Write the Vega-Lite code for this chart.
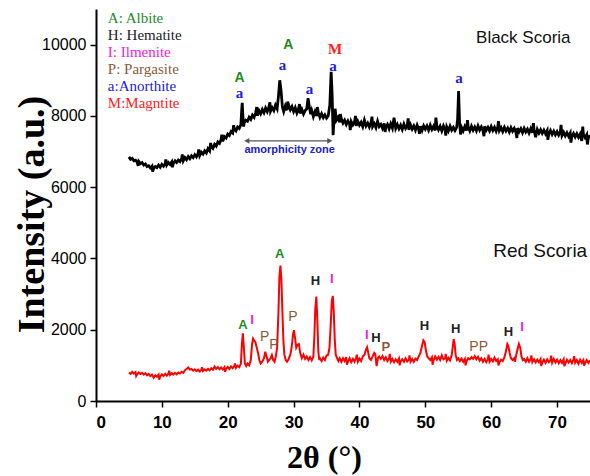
{
  "$schema": "https://vega.github.io/schema/vega-lite/v6.json",
  "width": 494,
  "height": 392,
  "autosize": "none",
  "padding": {"left": 96, "top": 9, "right": 0, "bottom": 75},
  "background": "white",
  "config": {"view": {"stroke": null}},
  "datasets": {
    "black": [
      {"t":5.0,"i":6850},{"t":5.25,"i":6780},{"t":5.5,"i":6810},{"t":5.75,"i":6740},{"t":6.0,"i":6760},{"t":6.25,"i":6700},{"t":6.5,"i":6720},{"t":6.75,"i":6660},{"t":7.0,"i":6690},{"t":7.25,"i":6620},{"t":7.5,"i":6650},{"t":7.75,"i":6580},{"t":8.0,"i":6600},{"t":8.25,"i":6540},{"t":8.5,"i":6590},{"t":8.75,"i":6530},{"t":9.0,"i":6580},{"t":9.25,"i":6550},{"t":9.5,"i":6620},{"t":9.75,"i":6560},
      {"t":10.0,"i":6640},{"t":10.25,"i":6590},{"t":10.5,"i":6660},{"t":10.75,"i":6620},{"t":11.0,"i":6690},{"t":11.25,"i":6640},{"t":11.5,"i":6710},{"t":11.75,"i":6670},{"t":12.0,"i":6740},{"t":12.25,"i":6690},{"t":12.5,"i":6760},{"t":12.75,"i":6720},{"t":13.0,"i":6800},{"t":13.25,"i":6740},{"t":13.5,"i":6830},{"t":13.75,"i":6770},{"t":14.0,"i":6860},{"t":14.25,"i":6800},{"t":14.5,"i":6880},{"t":14.75,"i":6830},
      {"t":15.0,"i":6910},{"t":15.25,"i":6850},{"t":15.5,"i":6950},{"t":15.75,"i":6890},{"t":16.0,"i":6980},{"t":16.25,"i":6930},{"t":16.5,"i":7020},{"t":16.75,"i":6960},{"t":17.0,"i":7080},{"t":17.25,"i":7020},{"t":17.5,"i":7150},{"t":17.75,"i":7090},{"t":18.0,"i":7200},{"t":18.25,"i":7150},{"t":18.5,"i":7270},{"t":18.75,"i":7230},{"t":19.0,"i":7340},{"t":19.25,"i":7290},{"t":19.5,"i":7420},{"t":19.75,"i":7380},
      {"t":20.0,"i":7490},{"t":20.25,"i":7450},{"t":20.5,"i":7560},{"t":20.75,"i":7520},{"t":21.0,"i":7630},{"t":21.25,"i":7580},{"t":21.5,"i":7690},{"t":21.75,"i":7650},{"t":22.0,"i":7760},{"t":22.1,"i":8100},{"t":22.2,"i":8370},{"t":22.3,"i":8000},{"t":22.4,"i":7700},{"t":22.5,"i":7800},{"t":22.75,"i":7880},{"t":23.0,"i":7850},{"t":23.25,"i":7960},{"t":23.5,"i":7900},{"t":23.75,"i":8020},{"t":24.0,"i":7960},{"t":24.25,"i":8100},{"t":24.5,"i":8010},{"t":24.75,"i":8150},
      {"t":25.0,"i":8060},{"t":25.25,"i":8180},{"t":25.5,"i":8090},{"t":25.75,"i":8220},{"t":26.0,"i":8120},{"t":26.25,"i":8250},{"t":26.5,"i":8130},{"t":26.75,"i":8230},{"t":27.0,"i":8150},{"t":27.25,"i":8300},{"t":27.5,"i":8200},{"t":27.7,"i":8550},{"t":27.9,"i":9000},{"t":28.1,"i":8700},{"t":28.3,"i":8250},{"t":28.5,"i":8120},{"t":28.75,"i":8280},{"t":29.0,"i":8160},{"t":29.25,"i":8300},{"t":29.5,"i":8170},{"t":29.75,"i":8260},
      {"t":30.0,"i":8120},{"t":30.25,"i":8230},{"t":30.5,"i":8080},{"t":30.75,"i":8200},{"t":31.0,"i":8070},{"t":31.25,"i":8180},{"t":31.5,"i":8050},{"t":31.75,"i":8150},{"t":32.0,"i":8200},{"t":32.2,"i":8500},{"t":32.4,"i":8250},{"t":32.6,"i":8050},{"t":32.75,"i":8150},{"t":33.0,"i":7980},{"t":33.25,"i":8120},{"t":33.5,"i":8000},{"t":33.75,"i":8100},{"t":34.0,"i":7960},{"t":34.25,"i":8060},{"t":34.5,"i":7950},{"t":34.75,"i":8030},
      {"t":35.0,"i":7940},{"t":35.25,"i":8000},{"t":35.5,"i":8300},{"t":35.7,"i":9240},{"t":35.85,"i":8600},{"t":36.0,"i":7460},{"t":36.15,"i":7950},{"t":36.3,"i":8200},{"t":36.5,"i":7880},{"t":36.75,"i":7960},{"t":37.0,"i":7820},{"t":37.25,"i":7920},{"t":37.5,"i":7800},{"t":37.75,"i":7880},{"t":38.0,"i":7760},{"t":38.25,"i":7860},{"t":38.5,"i":7770},{"t":38.75,"i":7840},{"t":39.0,"i":7750},{"t":39.25,"i":7830},{"t":39.5,"i":7720},{"t":39.75,"i":7850},
      {"t":40.0,"i":7740},{"t":40.25,"i":7820},{"t":40.5,"i":7700},{"t":40.75,"i":7880},{"t":41.0,"i":7720},{"t":41.25,"i":7800},{"t":41.5,"i":7690},{"t":41.75,"i":7810},{"t":42.0,"i":7700},{"t":42.25,"i":7780},{"t":42.5,"i":7670},{"t":42.75,"i":7850},{"t":43.0,"i":7700},{"t":43.25,"i":7760},{"t":43.5,"i":7650},{"t":43.75,"i":7790},{"t":44.0,"i":7680},{"t":44.25,"i":7760},{"t":44.5,"i":7640},{"t":44.75,"i":7780},
      {"t":45.0,"i":7660},{"t":45.25,"i":7950},{"t":45.5,"i":7650},{"t":45.75,"i":7760},{"t":46.0,"i":7640},{"t":46.25,"i":7740},{"t":46.5,"i":7620},{"t":46.75,"i":7770},{"t":47.0,"i":7650},{"t":47.25,"i":7730},{"t":47.5,"i":7610},{"t":47.75,"i":7750},{"t":48.0,"i":7630},{"t":48.25,"i":7720},{"t":48.5,"i":7600},{"t":48.75,"i":7740},{"t":49.0,"i":7620},{"t":49.25,"i":7710},{"t":49.5,"i":7590},{"t":49.75,"i":7720},
      {"t":50.0,"i":7630},{"t":50.25,"i":7720},{"t":50.5,"i":7600},{"t":50.75,"i":7740},{"t":51.0,"i":7620},{"t":51.25,"i":7710},{"t":51.5,"i":7590},{"t":51.75,"i":7720},{"t":52.0,"i":7610},{"t":52.25,"i":7710},{"t":52.5,"i":7580},{"t":52.75,"i":7720},{"t":53.0,"i":7610},{"t":53.25,"i":7690},{"t":53.5,"i":7580},{"t":53.75,"i":7710},{"t":54.0,"i":7600},{"t":54.25,"i":7680},{"t":54.5,"i":7590},{"t":54.75,"i":7670},{"t":54.9,"i":7900},{"t":55.05,"i":8700},{"t":55.2,"i":7800},{"t":55.35,"i":7480},
      {"t":55.5,"i":7680},{"t":55.75,"i":7580},{"t":56.0,"i":7700},{"t":56.25,"i":7590},{"t":56.5,"i":7690},{"t":56.75,"i":7580},{"t":57.0,"i":7710},{"t":57.25,"i":7600},{"t":57.5,"i":7690},{"t":57.75,"i":7580},{"t":58.0,"i":7720},{"t":58.25,"i":7600},{"t":58.5,"i":7690},{"t":58.75,"i":7590},{"t":59.0,"i":7710},{"t":59.25,"i":7600},{"t":59.5,"i":7680},{"t":59.75,"i":7580},
      {"t":60.0,"i":7700},{"t":60.25,"i":7590},{"t":60.5,"i":7680},{"t":60.75,"i":7570},{"t":61.0,"i":7690},{"t":61.25,"i":7590},{"t":61.5,"i":7670},{"t":61.75,"i":7560},{"t":62.0,"i":7680},{"t":62.25,"i":7580},{"t":62.5,"i":7660},{"t":62.75,"i":7550},{"t":63.0,"i":7670},{"t":63.25,"i":7570},{"t":63.5,"i":7650},{"t":63.75,"i":7540},{"t":64.0,"i":7660},{"t":64.25,"i":7560},{"t":64.5,"i":7640},{"t":64.75,"i":7530},
      {"t":65.0,"i":7650},{"t":65.25,"i":7550},{"t":65.5,"i":7630},{"t":65.75,"i":7520},{"t":66.0,"i":7640},{"t":66.25,"i":7530},{"t":66.5,"i":7620},{"t":66.75,"i":7400},{"t":67.0,"i":7620},{"t":67.25,"i":7520},{"t":67.5,"i":7610},{"t":67.75,"i":7510},{"t":68.0,"i":7600},{"t":68.25,"i":7500},{"t":68.5,"i":7590},{"t":68.75,"i":7490},{"t":69.0,"i":7590},{"t":69.25,"i":7480},{"t":69.5,"i":7570},{"t":69.75,"i":7470},
      {"t":70.0,"i":7560},{"t":70.25,"i":7460},{"t":70.5,"i":7550},{"t":70.75,"i":7450},{"t":71.0,"i":7540},{"t":71.25,"i":7440},{"t":71.5,"i":7530},{"t":71.75,"i":7430},{"t":72.0,"i":7520},{"t":72.25,"i":7420},{"t":72.5,"i":7510},{"t":72.75,"i":7410},{"t":73.0,"i":7500},{"t":73.25,"i":7400},{"t":73.5,"i":7490},{"t":73.75,"i":7300},{"t":74.0,"i":7480},{"t":74.25,"i":7390},{"t":74.5,"i":7470},{"t":74.75,"i":7380},{"t":75.0,"i":7460},
      {"t":6.4,"i":6600},{"t":8.6,"i":6440},{"t":10.6,"i":6780},{"t":11.6,"i":6560},{"t":13.1,"i":6920},{"t":15.6,"i":7060},{"t":17.4,"i":7240},{"t":19.1,"i":7470},{"t":20.9,"i":7740},{"t":24.4,"i":8250},{"t":26.4,"i":8380},{"t":29.1,"i":8400},{"t":30.9,"i":8330},{"t":33.6,"i":8250},{"t":37.1,"i":8050},{"t":38.6,"i":7600},{"t":39.4,"i":8000},{"t":41.9,"i":7980},{"t":43.9,"i":7550},{"t":47.4,"i":7930},{"t":49.1,"i":7500},{"t":51.6,"i":7950},{"t":53.1,"i":7450},{"t":56.4,"i":7880},{"t":58.9,"i":7430},{"t":61.1,"i":7850},{"t":63.9,"i":7380},{"t":66.4,"i":7800},{"t":68.6,"i":7330},{"t":70.6,"i":7750},{"t":72.1,"i":7250},{"t":73.9,"i":7700},{"t":74.6,"i":7200}
    ],
    "red": [
      {"t":5.0,"i":800},{"t":5.25,"i":760},{"t":5.5,"i":820},{"t":5.75,"i":770},{"t":6.0,"i":810},{"t":6.25,"i":750},{"t":6.5,"i":800},{"t":6.75,"i":760},{"t":7.0,"i":790},{"t":7.25,"i":740},{"t":7.5,"i":780},{"t":7.75,"i":720},{"t":8.0,"i":760},{"t":8.25,"i":700},{"t":8.5,"i":740},{"t":8.75,"i":650},{"t":9.0,"i":720},{"t":9.25,"i":680},{"t":9.5,"i":740},{"t":9.75,"i":690},
      {"t":10.0,"i":750},{"t":10.25,"i":700},{"t":10.5,"i":760},{"t":10.75,"i":710},{"t":11.0,"i":770},{"t":11.25,"i":730},{"t":11.5,"i":780},{"t":11.75,"i":740},{"t":12.0,"i":790},{"t":12.25,"i":750},{"t":12.5,"i":800},{"t":12.75,"i":770},{"t":13.0,"i":820},{"t":13.25,"i":790},{"t":13.5,"i":860},{"t":13.75,"i":900},{"t":14.0,"i":940},{"t":14.25,"i":880},{"t":14.5,"i":900},{"t":14.75,"i":850},
      {"t":15.0,"i":890},{"t":15.25,"i":840},{"t":15.5,"i":880},{"t":15.75,"i":830},{"t":16.0,"i":880},{"t":16.25,"i":840},{"t":16.5,"i":890},{"t":16.75,"i":850},{"t":17.0,"i":900},{"t":17.25,"i":860},{"t":17.5,"i":920},{"t":17.75,"i":880},{"t":18.0,"i":970},{"t":18.25,"i":900},{"t":18.5,"i":950},{"t":18.75,"i":890},{"t":19.0,"i":940},{"t":19.25,"i":880},{"t":19.5,"i":950},{"t":19.75,"i":900},
      {"t":20.0,"i":960},{"t":20.25,"i":900},{"t":20.5,"i":970},{"t":20.75,"i":920},{"t":21.0,"i":980},{"t":21.25,"i":930},{"t":21.5,"i":990},{"t":21.75,"i":950},{"t":22.0,"i":1050},{"t":22.15,"i":1600},{"t":22.3,"i":1900},{"t":22.45,"i":1500},{"t":22.6,"i":1050},{"t":22.8,"i":980},{"t":23.0,"i":1050},{"t":23.25,"i":1000},{"t":23.5,"i":1150},{"t":23.7,"i":1600},{"t":23.85,"i":1750},{"t":24.0,"i":1700},{"t":24.2,"i":1650},{"t":24.4,"i":1500},{"t":24.6,"i":1350},{"t":24.8,"i":1150},
      {"t":25.0,"i":1050},{"t":25.25,"i":1100},{"t":25.5,"i":1200},{"t":25.7,"i":1380},{"t":25.9,"i":1250},{"t":26.1,"i":1100},{"t":26.3,"i":1150},{"t":26.5,"i":1200},{"t":26.7,"i":1290},{"t":26.9,"i":1150},{"t":27.1,"i":1100},{"t":27.3,"i":1250},{"t":27.5,"i":1500},{"t":27.7,"i":2500},{"t":27.85,"i":3500},{"t":28.0,"i":3800},{"t":28.15,"i":3400},{"t":28.3,"i":2500},{"t":28.45,"i":1700},{"t":28.6,"i":1300},{"t":28.8,"i":1150},{"t":29.0,"i":1100},{"t":29.25,"i":1180},{"t":29.5,"i":1300},{"t":29.7,"i":1500},{"t":29.9,"i":1850},
      {"t":30.05,"i":1990},{"t":30.2,"i":1800},{"t":30.4,"i":1500},{"t":30.6,"i":1580},{"t":30.8,"i":1600},{"t":31.0,"i":1350},{"t":31.25,"i":1200},{"t":31.5,"i":1300},{"t":31.75,"i":1180},{"t":32.0,"i":1250},{"t":32.25,"i":1150},{"t":32.5,"i":1230},{"t":32.75,"i":1140},{"t":33.0,"i":1250},{"t":33.15,"i":1800},{"t":33.3,"i":2600},{"t":33.45,"i":2930},{"t":33.6,"i":2300},{"t":33.75,"i":1400},{"t":33.9,"i":1150},{"t":34.0,"i":1200},{"t":34.25,"i":1120},{"t":34.5,"i":1220},{"t":34.75,"i":1150},
      {"t":35.0,"i":1280},{"t":35.25,"i":1300},{"t":35.45,"i":1500},{"t":35.65,"i":2200},{"t":35.8,"i":2800},{"t":35.95,"i":2950},{"t":36.1,"i":2500},{"t":36.25,"i":1700},{"t":36.4,"i":1300},{"t":36.6,"i":1200},{"t":36.8,"i":1120},{"t":37.0,"i":1200},{"t":37.25,"i":1100},{"t":37.5,"i":1200},{"t":37.75,"i":1120},{"t":38.0,"i":1230},{"t":38.25,"i":1100},{"t":38.5,"i":1200},{"t":38.75,"i":1090},{"t":39.0,"i":1180},{"t":39.25,"i":1100},{"t":39.5,"i":1220},{"t":39.75,"i":1100},
      {"t":40.0,"i":1190},{"t":40.25,"i":1120},{"t":40.5,"i":1250},{"t":40.75,"i":1300},{"t":41.0,"i":1450},{"t":41.15,"i":1510},{"t":41.3,"i":1380},{"t":41.5,"i":1200},{"t":41.75,"i":1150},{"t":42.0,"i":1250},{"t":42.25,"i":1350},{"t":42.4,"i":1320},{"t":42.6,"i":980},{"t":42.8,"i":1200},{"t":43.0,"i":1250},{"t":43.25,"i":1180},{"t":43.5,"i":1260},{"t":43.75,"i":1150},{"t":44.0,"i":1230},{"t":44.25,"i":1120},{"t":44.5,"i":1200},{"t":44.75,"i":1100},
      {"t":45.0,"i":1180},{"t":45.25,"i":1090},{"t":45.5,"i":1170},{"t":45.75,"i":1100},{"t":46.0,"i":1190},{"t":46.25,"i":1110},{"t":46.5,"i":1170},{"t":46.75,"i":1100},{"t":47.0,"i":1200},{"t":47.25,"i":1110},{"t":47.5,"i":1160},{"t":47.75,"i":1100},{"t":48.0,"i":1180},{"t":48.25,"i":1100},{"t":48.5,"i":1190},{"t":48.75,"i":1150},{"t":49.0,"i":1250},{"t":49.25,"i":1350},{"t":49.5,"i":1550},{"t":49.7,"i":1700},{"t":49.9,"i":1650},
      {"t":50.1,"i":1400},{"t":50.3,"i":1250},{"t":50.5,"i":1200},{"t":50.75,"i":1150},{"t":51.0,"i":1230},{"t":51.25,"i":1140},{"t":51.5,"i":1250},{"t":51.75,"i":1160},{"t":52.0,"i":1240},{"t":52.25,"i":1150},{"t":52.5,"i":1280},{"t":52.75,"i":1170},{"t":53.0,"i":1200},{"t":53.25,"i":1130},{"t":53.5,"i":1210},{"t":53.75,"i":1140},{"t":54.0,"i":1280},{"t":54.15,"i":1500},{"t":54.3,"i":1740},{"t":54.45,"i":1600},{"t":54.6,"i":1300},{"t":54.8,"i":1150},
      {"t":55.0,"i":1200},{"t":55.25,"i":1120},{"t":55.5,"i":1190},{"t":55.75,"i":1100},{"t":56.0,"i":1180},{"t":56.25,"i":1110},{"t":56.5,"i":1200},{"t":56.75,"i":1170},{"t":57.0,"i":1230},{"t":57.25,"i":1180},{"t":57.5,"i":1260},{"t":57.75,"i":1170},{"t":58.0,"i":1240},{"t":58.25,"i":1130},{"t":58.5,"i":1200},{"t":58.75,"i":1100},{"t":59.0,"i":1180},{"t":59.25,"i":1090},{"t":59.5,"i":1170},{"t":59.75,"i":1100},
      {"t":60.0,"i":1180},{"t":60.25,"i":1110},{"t":60.5,"i":1220},{"t":60.75,"i":1120},{"t":61.0,"i":1170},{"t":61.25,"i":1090},{"t":61.5,"i":1160},{"t":61.75,"i":1120},{"t":62.0,"i":1220},{"t":62.25,"i":1400},{"t":62.45,"i":1600},{"t":62.6,"i":1550},{"t":62.8,"i":1350},{"t":63.0,"i":1200},{"t":63.25,"i":1150},{"t":63.5,"i":1200},{"t":63.75,"i":1250},{"t":64.0,"i":1450},{"t":64.2,"i":1600},{"t":64.4,"i":1500},{"t":64.6,"i":1250},{"t":64.8,"i":1150},
      {"t":65.0,"i":1180},{"t":65.25,"i":1100},{"t":65.5,"i":1200},{"t":65.75,"i":1100},{"t":66.0,"i":1180},{"t":66.25,"i":1090},{"t":66.5,"i":1170},{"t":66.75,"i":1080},{"t":67.0,"i":1160},{"t":67.25,"i":1090},{"t":67.5,"i":1180},{"t":67.75,"i":1080},{"t":68.0,"i":1160},{"t":68.25,"i":1070},{"t":68.5,"i":1170},{"t":68.75,"i":1090},{"t":69.0,"i":1150},{"t":69.25,"i":1070},{"t":69.5,"i":1180},{"t":69.75,"i":1080},
      {"t":70.0,"i":1160},{"t":70.25,"i":1060},{"t":70.5,"i":1150},{"t":70.75,"i":1070},{"t":71.0,"i":1170},{"t":71.25,"i":1050},{"t":71.5,"i":1160},{"t":71.75,"i":1080},{"t":72.0,"i":1150},{"t":72.25,"i":1060},{"t":72.5,"i":1170},{"t":72.75,"i":1070},{"t":73.0,"i":1150},{"t":73.25,"i":1040},{"t":73.5,"i":1160},{"t":73.75,"i":1070},{"t":74.0,"i":1150},{"t":74.25,"i":1060},{"t":74.5,"i":1150},{"t":74.75,"i":1070},{"t":75.0,"i":1140},
      {"t":6.1,"i":700},{"t":9.6,"i":600},{"t":11.1,"i":850},{"t":16.1,"i":950},{"t":19.6,"i":820},{"t":21.1,"i":1050},{"t":38.1,"i":1020},{"t":39.6,"i":1300},{"t":44.6,"i":1320},{"t":46.1,"i":1000},{"t":47.6,"i":1280},{"t":51.1,"i":1020},{"t":53.1,"i":1320},{"t":56.1,"i":1000},{"t":59.6,"i":1300},{"t":61.1,"i":1000},{"t":63.6,"i":1100},{"t":66.1,"i":1280},{"t":67.6,"i":980},{"t":69.1,"i":1270},{"t":71.1,"i":980},{"t":72.6,"i":1260},{"t":74.1,"i":990}
    ],
    "legend": [
      {"t":1.8,"i":10743,"label":"A: Albite","mineral":"Albite"},
      {"t":1.8,"i":10266,"label":"H: Hematite","mineral":"Hematite"},
      {"t":1.8,"i":9789,"label":" I: Ilmenite","mineral":"Ilmenite"},
      {"t":1.8,"i":9313,"label":"P: Pargasite","mineral":"Pargasite"},
      {"t":1.8,"i":8836,"label":"a:Anorthite","mineral":"Anorthite"},
      {"t":1.8,"i":8359,"label":"M:Magntite","mineral":"Magnetite"}
    ],
    "blackSerif": [
      {"t":21.8,"i":8640,"label":"a","mineral":"Anorthite"},
      {"t":28.3,"i":9425,"label":"a","mineral":"Anorthite"},
      {"t":32.4,"i":8750,"label":"a","mineral":"Anorthite"},
      {"t":36.0,"i":9400,"label":"a","mineral":"Anorthite"},
      {"t":36.3,"i":9870,"label":"M","mineral":"Magnetite"},
      {"t":55.1,"i":9060,"label":"a","mineral":"Anorthite"}
    ],
    "blackSans": [
      {"t":21.8,"i":9060,"label":"A","mineral":"Albite"},
      {"t":29.2,"i":9990,"label":"A","mineral":"Albite"}
    ],
    "redBold": [
      {"t":22.3,"i":2130,"label":"A","mineral":"Albite"},
      {"t":23.7,"i":2270,"label":"I","mineral":"Ilmenite"},
      {"t":27.9,"i":4120,"label":"A","mineral":"Albite"},
      {"t":33.3,"i":3375,"label":"H","mineral":"Hematite"},
      {"t":35.8,"i":3410,"label":"I","mineral":"Ilmenite"},
      {"t":41.1,"i":1850,"label":"I","mineral":"Ilmenite"},
      {"t":42.5,"i":1760,"label":"H","mineral":"Hematite"},
      {"t":44.0,"i":1520,"label":"P","mineral":"Pargasite"},
      {"t":49.85,"i":2100,"label":"H","mineral":"Hematite"},
      {"t":54.6,"i":2010,"label":"H","mineral":"Hematite"},
      {"t":62.6,"i":1945,"label":"H","mineral":"Hematite"},
      {"t":64.7,"i":2070,"label":"I","mineral":"Ilmenite"}
    ],
    "redNormal": [
      {"t":25.6,"i":1800,"label":"P","mineral":"Pargasite"},
      {"t":27.0,"i":1570,"label":"P","mineral":"Pargasite"},
      {"t":29.9,"i":2350,"label":"P","mineral":"Pargasite"},
      {"t":58.1,"i":1520,"label":"PP","mineral":"Pargasite"}
    ],
    "arrow": [{"t":22.9,"t2":35.5,"i":7300}],
    "heads": [{"t":22.9,"i":7300,"dir":"left"},{"t":35.5,"i":7300,"dir":"right"}],
    "zone": [{"t":29.4,"i":7050,"label":"amorphicity zone"}],
    "sampleBlack": [{"t":57.7,"i":10180,"label":"Black Scoria"}],
    "sampleRed": [{"t":60.3,"i":4216,"label":"Red Scoria"}]
  },
  "layer": [
    {
      "data": {"name": "black"},
      "mark": {"type": "line", "color": "black", "strokeWidth": 2.8, "clip": true},
      "encoding": {
        "x": {"field": "t", "type": "quantitative",
          "scale": {"domain": [0, 75], "nice": false},
          "axis": {
            "values": [0,5,10,15,20,25,30,35,40,45,50,55,60,65,70,75],
            "labelExpr": "datum.value % 10 == 0 ? datum.label : ''",
            "tickSize": {"condition": {"test": "datum.value % 10 == 0", "value": 6}, "value": 3},
            "grid": false, "domainColor": "black", "domainWidth": 2, "tickColor": "black", "tickWidth": 1.5,
            "labelFont": "Liberation Sans", "labelFontSize": 17, "labelFontWeight": "bold", "labelColor": "black", "labelPadding": 7,
            "title": "2θ (°)", "titleFont": "Liberation Serif", "titleFontSize": 32, "titleFontWeight": "bold", "titleColor": "black",
            "titleX": 228, "titlePadding": 12
          }},
        "y": {"field": "i", "type": "quantitative",
          "scale": {"domain": [0, 11000], "nice": false},
          "axis": {
            "values": [0,1000,2000,3000,4000,5000,6000,7000,8000,9000,10000],
            "labelExpr": "datum.value % 2000 == 0 ? format(datum.value, 'd') : ''",
            "tickSize": {"condition": {"test": "datum.value % 2000 == 0", "value": 6}, "value": 3},
            "grid": false, "domainColor": "black", "domainWidth": 2, "tickColor": "black", "tickWidth": 1.5,
            "labelFont": "Liberation Sans", "labelFontSize": 16, "labelColor": "black", "labelPadding": 4,
            "title": "Intensity (a.u.)", "titleFont": "Liberation Serif", "titleFontSize": 38, "titleFontWeight": "bold", "titleColor": "black",
            "titleBaseline": "alphabetic", "titleX": -53, "titleY": 205, "titleAngle": -90
          }}
      }
    },
    {
      "data": {"name": "red"},
      "mark": {"type": "line", "color": "#ff0000", "strokeWidth": 2, "clip": true},
      "encoding": {
        "x": {"field": "t", "type": "quantitative"},
        "y": {"field": "i", "type": "quantitative"}
      }
    },
    {
      "mark": {"type": "rule", "color": "black", "strokeWidth": 1.5},
      "encoding": {"y": {"datum": 11000, "type": "quantitative"}}
    },
    {
      "mark": {"type": "rule", "color": "black", "strokeWidth": 2},
      "encoding": {"y": {"datum": 5000, "type": "quantitative"}}
    },
    {
      "data": {"name": "arrow"},
      "mark": {"type": "rule", "color": "#555555", "strokeWidth": 1.3},
      "encoding": {
        "x": {"field": "t", "type": "quantitative"},
        "x2": {"field": "t2"},
        "y": {"field": "i", "type": "quantitative"}
      }
    },
    {
      "data": {"name": "heads"},
      "mark": {"type": "point", "filled": true, "color": "#555555", "size": 35, "opacity": 1},
      "encoding": {
        "x": {"field": "t", "type": "quantitative"},
        "y": {"field": "i", "type": "quantitative"},
        "shape": {"field": "dir", "type": "nominal", "scale": {"domain": ["left", "right"], "range": ["triangle-left", "triangle-right"]}, "legend": null}
      }
    },
    {
      "data": {"name": "legend"},
      "mark": {"type": "text", "font": "Liberation Serif", "fontSize": 15, "align": "left", "baseline": "middle"},
      "encoding": {
        "x": {"field": "t", "type": "quantitative"},
        "y": {"field": "i", "type": "quantitative"},
        "text": {"field": "label"},
        "color": {"field": "mineral", "type": "nominal", "legend": null,
          "scale": {"domain": ["Albite","Hematite","Ilmenite","Pargasite","Anorthite","Magnetite"],
                    "range": ["#1f8a1f","#222222","#ee22dd","#8a5a3a","#2020e0","#ff2020"]}}
      }
    },
    {
      "data": {"name": "blackSerif"},
      "mark": {"type": "text", "font": "Liberation Serif", "fontSize": 15, "fontWeight": "bold", "align": "center", "baseline": "middle"},
      "encoding": {
        "x": {"field": "t", "type": "quantitative"},
        "y": {"field": "i", "type": "quantitative"},
        "text": {"field": "label"},
        "color": {"field": "mineral", "type": "nominal", "legend": null}
      }
    },
    {
      "data": {"name": "blackSans"},
      "mark": {"type": "text", "font": "Liberation Sans", "fontSize": 14, "fontWeight": "bold", "align": "center", "baseline": "middle"},
      "encoding": {
        "x": {"field": "t", "type": "quantitative"},
        "y": {"field": "i", "type": "quantitative"},
        "text": {"field": "label"},
        "color": {"field": "mineral", "type": "nominal", "legend": null}
      }
    },
    {
      "data": {"name": "redBold"},
      "mark": {"type": "text", "font": "Liberation Sans", "fontSize": 13, "fontWeight": "bold", "align": "center", "baseline": "middle"},
      "encoding": {
        "x": {"field": "t", "type": "quantitative"},
        "y": {"field": "i", "type": "quantitative"},
        "text": {"field": "label"},
        "color": {"field": "mineral", "type": "nominal", "legend": null}
      }
    },
    {
      "data": {"name": "redNormal"},
      "mark": {"type": "text", "font": "Liberation Sans", "fontSize": 14, "align": "center", "baseline": "middle"},
      "encoding": {
        "x": {"field": "t", "type": "quantitative"},
        "y": {"field": "i", "type": "quantitative"},
        "text": {"field": "label"},
        "color": {"field": "mineral", "type": "nominal", "legend": null}
      }
    },
    {
      "data": {"name": "zone"},
      "mark": {"type": "text", "font": "Liberation Sans", "fontSize": 11, "fontWeight": "bold", "color": "#2020d0", "align": "center", "baseline": "middle"},
      "encoding": {
        "x": {"field": "t", "type": "quantitative"},
        "y": {"field": "i", "type": "quantitative"},
        "text": {"field": "label"}
      }
    },
    {
      "data": {"name": "sampleBlack"},
      "mark": {"type": "text", "font": "Liberation Sans", "fontSize": 17, "color": "#111111", "align": "left", "baseline": "middle"},
      "encoding": {
        "x": {"field": "t", "type": "quantitative"},
        "y": {"field": "i", "type": "quantitative"},
        "text": {"field": "label"}
      }
    },
    {
      "data": {"name": "sampleRed"},
      "mark": {"type": "text", "font": "Liberation Sans", "fontSize": 19, "color": "#111111", "align": "left", "baseline": "middle"},
      "encoding": {
        "x": {"field": "t", "type": "quantitative"},
        "y": {"field": "i", "type": "quantitative"},
        "text": {"field": "label"}
      }
    }
  ]
}
